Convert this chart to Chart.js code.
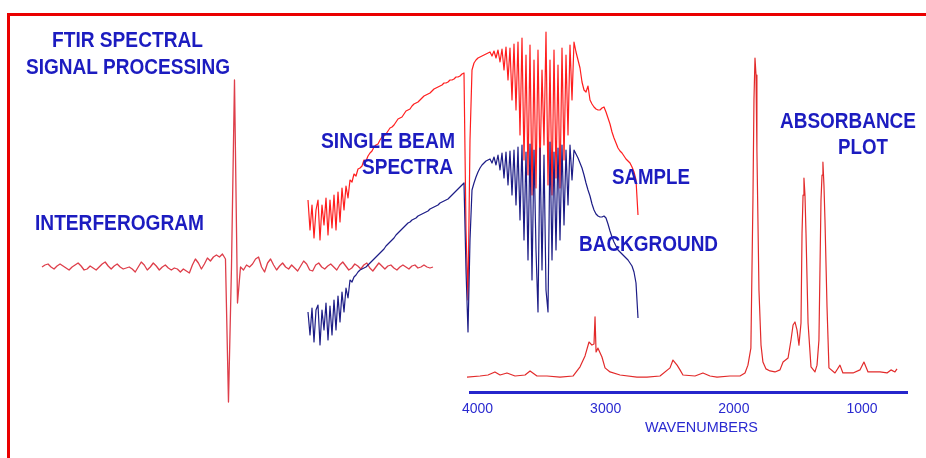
<!DOCTYPE html>
<html><head><meta charset="utf-8">
<script src="https://cdn.jsdelivr.net/npm/chart.js@4.4.1/dist/chart.umd.min.js"></script>
<style>
html,body{margin:0;padding:0;background:#fff;width:926px;height:458px;overflow:hidden;}
#frame{position:absolute;left:7px;top:13px;width:1000px;height:1000px;border:3px solid #ea0000;box-sizing:border-box;}
canvas{position:absolute;left:0;top:0;}
.lbl{position:absolute;font-family:"Liberation Sans",Arial,sans-serif;font-weight:bold;font-size:22px;line-height:22px;color:#1c1cc0;white-space:nowrap;transform-origin:0 50%;}
.ax{font-weight:normal;font-size:14px;line-height:14px;color:#2a2ad0;}
</style></head>
<body>
<div id="frame"></div>
<canvas id="ifg" width="926" height="458"></canvas>
<canvas id="sb" width="926" height="458"></canvas>
<canvas id="abs" width="926" height="458"></canvas>
<div class="lbl" data-w="151" style="left:52px;top:29px">FTIR SPECTRAL</div>
<div class="lbl" data-w="204" style="left:26px;top:56px">SIGNAL PROCESSING</div>
<div class="lbl" data-w="169" style="left:35px;top:212px">INTERFEROGRAM</div>
<div class="lbl" data-w="134" style="left:321px;top:130px">SINGLE BEAM</div>
<div class="lbl" data-w="91" style="left:362px;top:156px">SPECTRA</div>
<div class="lbl" data-w="78" style="left:612px;top:166px">SAMPLE</div>
<div class="lbl" data-w="139" style="left:579px;top:233px">BACKGROUND</div>
<div class="lbl" data-w="136" style="left:780px;top:110px">ABSORBANCE</div>
<div class="lbl" data-w="50" style="left:838px;top:136px">PLOT</div>
<div class="lbl ax" data-w="113" style="left:645px;top:420px">WAVENUMBERS</div>
<script>
// ---------- DATA ----------
// Interferogram (detector signal vs. retardation index)
const ifgSignal = [0,2,3,0,-2,1,3,1,-1,-3,
 0,2,4,1,-3,-2,1,-1,-3,0,
 3,5,1,-2,1,3,0,-2,-1,0,
 -2,-5,0,5,2,-3,0,4,1,-3,
 0,2,-1,-3,-1,-2,-5,-2,-4,-6,
 2,8,4,-2,3,9,6,10,12,10,
 13,8,-135,0,187,-36,0,-3,2,0,
 3,8,10,0,-5,4,8,2,-3,1,
 4,0,-2,2,-1,-4,1,6,3,-3,
 -4,2,4,0,-2,1,3,0,-3,2,
 5,1,-3,-1,3,1,-2,2,4,-1,
 -4,0,4,1,-2,1,2,-1,-3,0,
 2,0,-2,1,2,-1,0,2,0,-1,
 0];
const ifgRetardation = ifgSignal.map((_, i) => i);

// Single beam spectra (energy, arbitrary units)
const sampleEnergy = [200,170,195,162,190,200,160,195,175,202,
 165,200,172,205,170,208,178,212,190,214,
 202,220,218,226,224,231,232,234,240,239,
 244,247,249,253,255,256,260,263,264,266,
 269,272,273,275,278,281,282,283,286,289,
 290,291,294,296,297,298,300,302,304,305,
 306,307,309,311,312,313,314,315,317,317,
 318,320,320,321,323,323,324,326,327,170,
 100,260,330,337,340,342,343,344,345,346,
 347,348,344,349,342,350,338,351,330,353,
 320,352,300,356,290,358,265,362,240,345,
 225,355,205,340,212,350,230,330,255,368,
 215,340,205,350,222,335,212,352,240,345,
 265,355,300,358,348,340,332,318,310,308,
 314,300,296,293,291,290,290,292,293,288,
 282,276,268,262,257,252,249,247,244,241,
 239,237,233,228,220,185];
const backgroundEnergy = [88,65,92,58,90,95,55,90,70,97,
 60,94,65,100,70,104,78,108,88,112,
 102,120,118,123,125,128,130,131,132,133,
 135,137,139,141,143,145,147,149,151,154,
 156,158,160,162,165,167,169,171,173,175,
 177,178,180,181,182,184,185,186,187,188,
 189,191,192,193,194,195,197,198,199,200,
 201,203,205,207,209,211,213,215,217,130,
 68,160,210,217,223,228,232,235,237,239,
 240,241,237,243,235,245,230,247,222,248,
 215,249,205,250,195,253,180,255,160,248,
 140,256,120,250,150,88,252,130,245,110,
 88,258,140,248,150,252,160,255,175,250,
 195,255,220,250,246,242,237,232,225,217,
 210,204,196,190,186,184,183,183,184,182,
 176,169,163,158,154,150,148,146,144,142,
 140,137,134,128,117,82];
const sbWavenumbers = sampleEnergy.map((_, i) => Math.round(4000 - i * 20.75));

// Absorbance plot
const absWavenumbers = [4082,3980,3918,3864,3824,3770,3707,3629,3590,3536,
 3458,3356,3255,3200,3161,3130,3107,3091,3083,3075,
 3060,3029,3005,2966,2888,2756,2678,2576,2498,2475,
 2443,2420,2397,2303,2241,2186,2131,2030,1952,1913,
 1890,1867,1851,1843,1835,1827,1820,1804,1788,1773,
 1749,1718,1679,1640,1616,1577,1554,1538,1523,1507,
 1492,1476,1468,1460,1453,1445,1437,1421,1398,1367,
 1351,1336,1320,1312,1305,1297,1289,1273,1258,1211,
 1172,1149,1070,1016,985,953,860,805,774,743,727];
const absorbance = [0.044,0.047,0.050,0.059,0.050,0.056,0.047,0.050,0.062,0.047,
 0.047,0.044,0.047,0.074,0.106,0.147,0.138,0.141,0.221,0.118,
 0.129,0.103,0.071,0.059,0.050,0.044,0.044,0.047,0.071,0.094,
 0.079,0.065,0.050,0.047,0.056,0.047,0.044,0.047,0.047,0.056,
 0.079,0.129,0.565,0.859,0.982,0.932,0.712,0.300,0.138,0.088,
 0.068,0.062,0.059,0.065,0.088,0.100,0.153,0.197,0.206,0.182,
 0.138,0.203,0.467,0.579,0.629,0.579,0.467,0.203,0.074,0.059,
 0.079,0.153,0.565,0.638,0.676,0.609,0.506,0.250,0.071,0.056,
 0.079,0.056,0.056,0.065,0.088,0.059,0.059,0.056,0.065,0.059,0.068];
const wnTickValues = [4000, 3000, 2000, 1000];

// ---------- CHARTS ----------
function baseOptions(padding, scales) {
  return {
    responsive: false, animation: false, events: [],
    layout: { padding },
    plugins: { legend: { display: false }, tooltip: { enabled: false } },
    elements: { point: { radius: 0 }, line: { tension: 0, borderJoinStyle: 'round' } },
    scales
  };
}

new Chart(document.getElementById('ifg'), {
  type: 'line',
  data: { labels: ifgRetardation, datasets: [{
    data: ifgSignal, borderColor: 'rgb(222,62,74)', borderWidth: 1.3, clip: false }] },
  options: baseOptions({ left: 42, right: 493, top: 20, bottom: 38 }, {
    x: { type: 'category', display: false },
    y: { type: 'linear', display: false, min: -153, max: 247 }
  })
});

new Chart(document.getElementById('sb'), {
  type: 'line',
  data: { labels: sbWavenumbers, datasets: [
    { label: 'BACKGROUND', data: backgroundEnergy, borderColor: '#1c1c86', borderWidth: 1.2, clip: false },
    { label: 'SAMPLE', data: sampleEnergy, borderColor: '#ff1e1e', borderWidth: 1.2, clip: false }
  ] },
  options: baseOptions({ left: 308, right: 288, top: 20, bottom: 58 }, {
    x: { type: 'category', display: false },
    y: { type: 'linear', display: false, min: 0, max: 380 }
  })
});

new Chart(document.getElementById('abs'), {
  type: 'line',
  data: { datasets: [{
    data: absWavenumbers.map((w, i) => ({ x: w, y: absorbance[i] })),
    borderColor: '#e22a2a', borderWidth: 1.2, clip: false }] },
  options: baseOptions({ left: 470, right: 19, top: 52, bottom: 0 }, {
    x: {
      type: 'linear', position: 'bottom', reverse: true, min: 649, max: 4058.5,
      grid: { display: false, drawTicks: false, tickLength: 0 },
      border: { display: true, color: '#2626cc', width: 3 },
      ticks: { color: '#2a2ad0', font: { family: 'Liberation Sans', size: 14 }, padding: 9,
               maxRotation: 0, autoSkip: false, callback: v => String(v) },
      afterBuildTicks: s => { s.ticks = wnTickValues.map(v => ({ value: v })); },
      afterFit: s => { s.height = 66; }
    },
    y: { type: 'linear', display: false, min: 0, max: 1 }
  })
});

// fit label widths to the reference
document.querySelectorAll('.lbl').forEach(el => {
  const w = el.getBoundingClientRect().width;
  const t = parseFloat(el.dataset.w);
  el.style.transform = 'scaleX(' + (t / w).toFixed(3) + ')';
});
</script>
</body></html>
